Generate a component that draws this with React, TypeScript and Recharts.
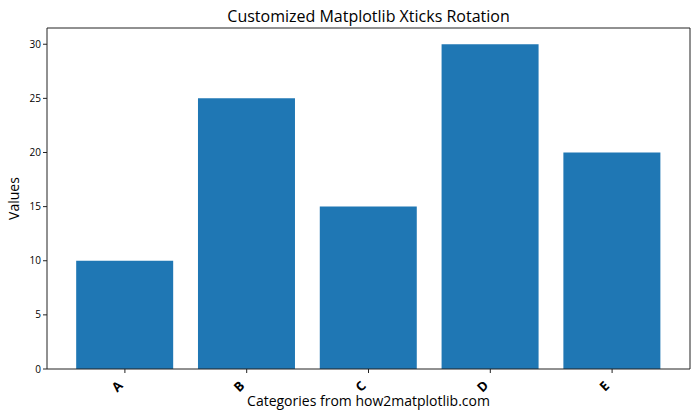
import React from "react";
import { BarChart, Bar, XAxis, YAxis } from "recharts";

const categories = ["A", "B", "C", "D", "E"];
const values = [10, 25, 15, 30, 20];
const yTicks = [0, 5, 10, 15, 20, 25, 30];

const data = categories.map((name, i) => ({ name, value: values[i] }));

const FONT = "'Open Sans', 'Noto Sans', sans-serif";

// rotated 45° labels sitting left-below the tick, like ha='right' in matplotlib
const RotatedTick = (props: any) => {
  const { x, y, payload } = props;
  return (
    <text
      x={x - 8}
      y={y + 11}
      transform={`rotate(-45, ${x - 8}, ${y + 11})`}
      textAnchor="middle"
      dominantBaseline="central"
      fontSize={13}
      fontWeight="bold"
      fontFamily={FONT}
      fill="#000"
    >
      {payload.value}
    </text>
  );
};

export default function App() {
  return (
    <div
      style={{
        position: "absolute",
        left: 0,
        top: 0,
        width: 700,
        height: 420,
        background: "#fff",
        fontFamily: FONT,
      }}
    >
      <div
        style={{
          position: "absolute",
          top: 5,
          left: 47,
          width: 643,
          textAlign: "center",
          fontSize: 16,
          color: "#000",
          lineHeight: "22px",
        }}
      >
        Customized Matplotlib Xticks Rotation
      </div>
      <BarChart
        width={700}
        height={420}
        data={data}
        margin={{ top: 27, right: 9, bottom: 0, left: 0 }}
        barCategoryGap="10%"
      >
        <XAxis
          dataKey="name"
          height={51}
          padding={{ left: 17, right: 17 }}
          stroke="#222"
          tickLine={{ stroke: "#222" }}
          tickSize={4}
          tick={<RotatedTick />}
          interval={0}
          label={{
            value: "Categories from how2matplotlib.com",
            position: "center",
            dy: 7,
            fontSize: 14,
            fill: "#000",
            fontFamily: FONT,
          }}
        />
        <XAxis
          xAxisId="top"
          orientation="top"
          dataKey="name"
          height={1}
          tick={false}
          tickLine={false}
          stroke="#222"
        />
        <YAxis
          width={47}
          domain={[0, 31.5]}
          ticks={yTicks}
          stroke="#222"
          tickSize={4}
          tickMargin={2}
          tick={{ fontSize: 10, fill: "#000", fontFamily: FONT }}
          label={{
            value: "Values",
            angle: -90,
            position: "center",
            dx: -9,
            fontSize: 14,
            fill: "#000",
            fontFamily: FONT,
          }}
        />
        <YAxis
          yAxisId="right"
          orientation="right"
          width={1}
          domain={[0, 31.5]}
          tick={false}
          tickLine={false}
          stroke="#222"
        />
        <Bar dataKey="value" fill="#1f77b4" isAnimationActive={false} />
      </BarChart>
    </div>
  );
}
